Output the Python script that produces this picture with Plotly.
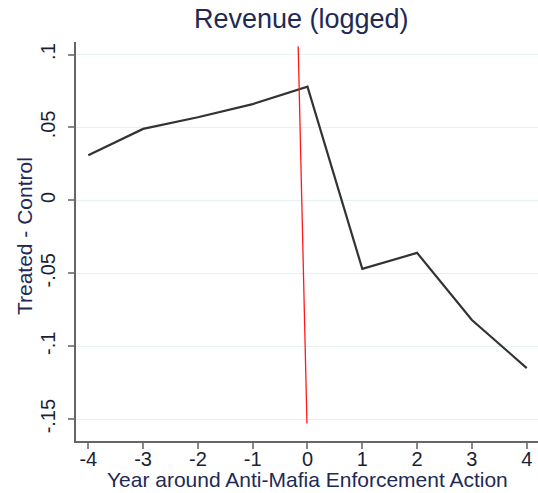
import plotly.graph_objects as go

years = [-4, -3, -2, -1, 0, 1, 2, 3, 4]
diff = [0.031, 0.049, 0.057, 0.066, 0.078, -0.047, -0.036, -0.082, -0.115]
ref_x = [-0.17, -0.01]
ref_y = [0.1056, -0.153]
ytick_vals = [0.1, 0.05, 0, -0.05, -0.1, -0.15]
ytick_text = [".1", ".05", "0", "-.05", "-.1", "-.15"]
xtick_vals = [-4, -3, -2, -1, 0, 1, 2, 3, 4]
xtick_text = ["-4", "-3", "-2", "-1", "0", "1", "2", "3", "4"]

fig = go.Figure()
fig.add_trace(go.Scatter(x=years, y=diff, mode="lines",
                         line=dict(color="#333333", width=2.2), showlegend=False))
fig.add_trace(go.Scatter(x=ref_x, y=ref_y, mode="lines",
                         line=dict(color="#ff1a1a", width=1.3), showlegend=False))

title_col = "#1e2a55"
tick_col = "#1a1f33"

fig.update_layout(
    width=538, height=493,
    margin=dict(l=76, r=0, t=42, b=52, autoexpand=False),
    paper_bgcolor="white", plot_bgcolor="white",
    font=dict(family="Liberation Sans, Arial, sans-serif", size=20, color=tick_col),
    title=dict(text="Revenue (logged)", x=0.56, xref="container", xanchor="center",
               y=1 - 19 / 493, yref="container", yanchor="middle",
               font=dict(size=27, color=title_col)),
    xaxis=dict(range=[-4.224, 4.206], tickvals=xtick_vals, ticktext=xtick_text,
               ticks="outside", ticklen=6,
               tickcolor="#888888", tickwidth=2, showgrid=False, zeroline=False,
               showline=True, linecolor="#666666", linewidth=2, automargin=False,
               ticklabelstandoff=-7,
               tickfont=dict(size=20, color=tick_col)),
    yaxis=dict(range=[-0.165, 0.1086], tickvals=ytick_vals, ticktext=ytick_text,
               ticks="outside", ticklen=6, tickcolor="#888888", tickwidth=2,
               tickangle=-90, showgrid=True, gridcolor="#e6f2f2", gridwidth=1,
               zeroline=False, showline=True, linecolor="#666666", linewidth=2,
               automargin=False, ticklabelstandoff=5,
               tickfont=dict(size=20, color=tick_col)),
    annotations=[
        dict(text="Year around Anti-Mafia Enforcement Action", xref="paper", yref="paper",
             x=0.502, y=-0.0977, xanchor="center", yanchor="middle", showarrow=False,
             font=dict(size=21, color=title_col)),
        dict(text="Treated - Control", xref="paper", yref="paper", textangle=-90,
             x=-0.110, y=0.514, xanchor="center", yanchor="middle", showarrow=False,
             font=dict(size=21, color=title_col)),
    ],
)
fig.write_html("out.html", config={"displayModeBar": False},
               post_script="document.body.style.margin='0';document.body.style.overflow='hidden';")
